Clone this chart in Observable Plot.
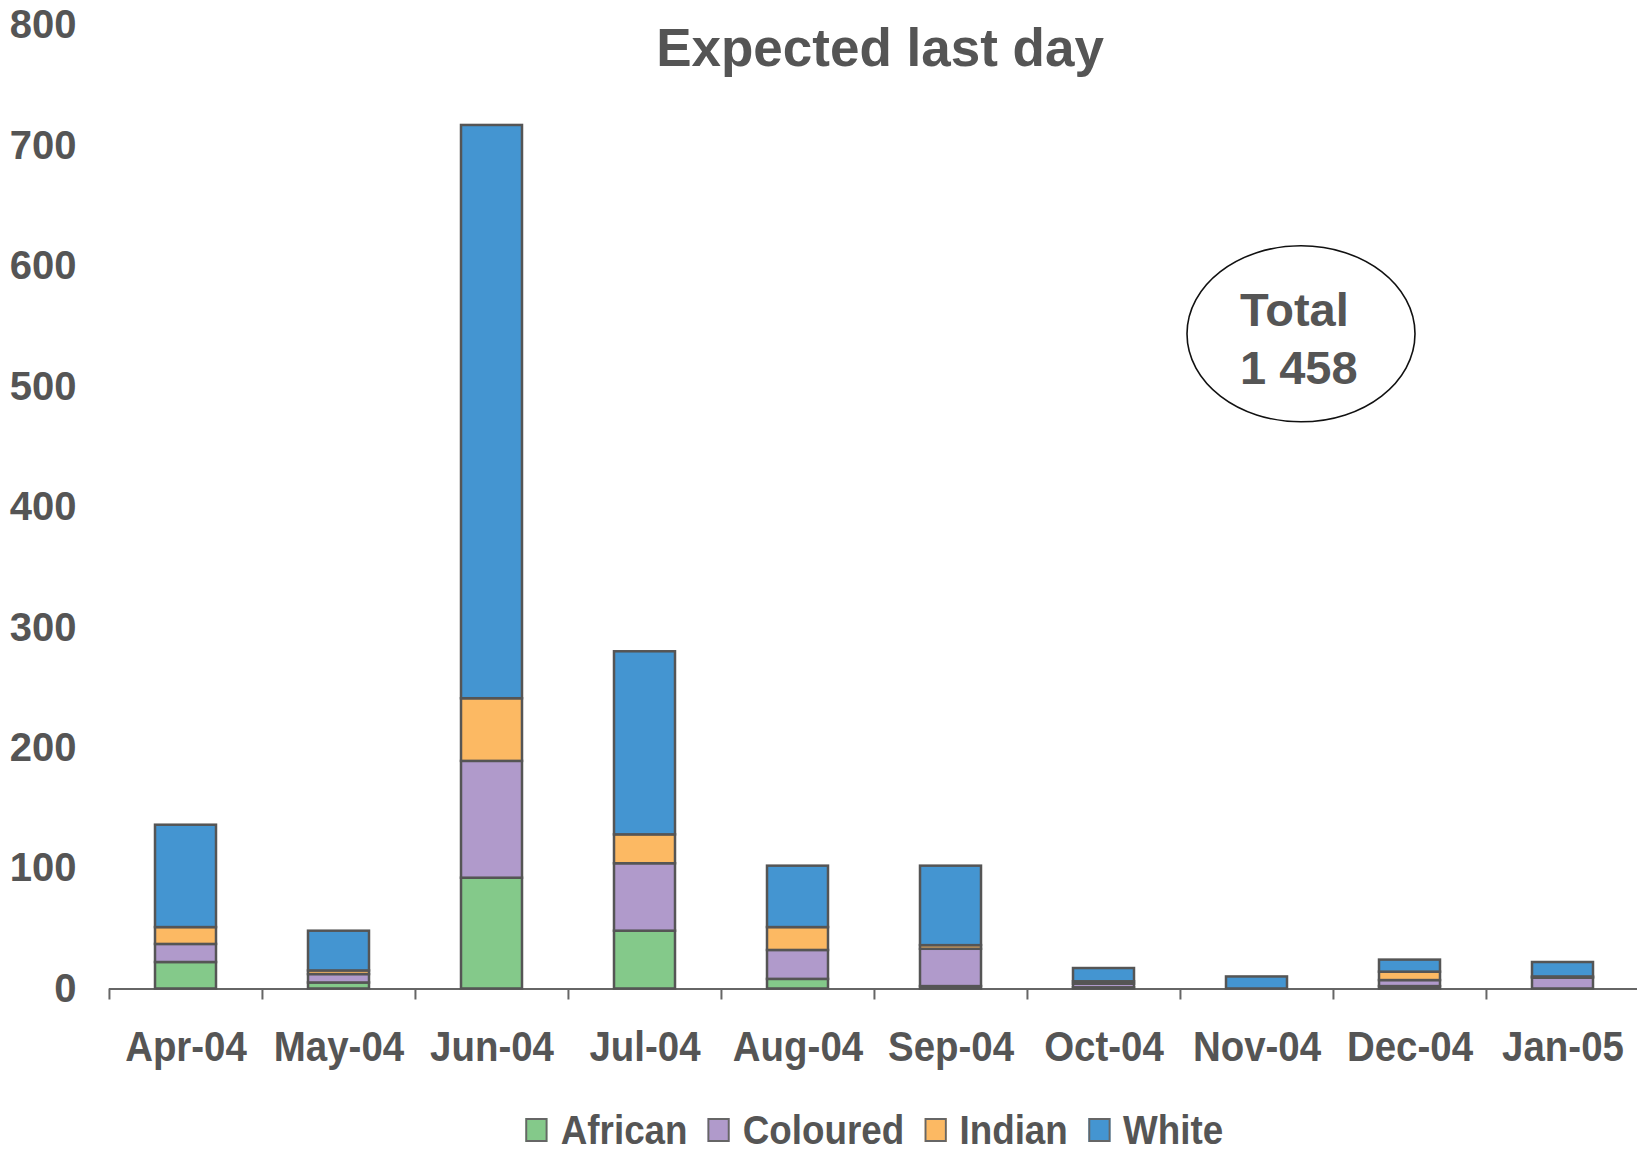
<!DOCTYPE html>
<html>
<head>
<meta charset="utf-8">
<script src="https://cdn.jsdelivr.net/npm/d3@7"></script>
<script src="https://cdn.jsdelivr.net/npm/@observablehq/plot@0.6"></script>
<style>
  html, body { margin: 0; padding: 0; background: #fff; }
  body { width: 1637px; height: 1152px; position: relative; overflow: hidden;
         font-family: "Liberation Sans", Arial, sans-serif; }
  #legend { position: absolute; left: 109px; width: 1531px; top: 1108px; height: 44px;
            display: flex; justify-content: center; align-items: center; gap: 22px;
            transform: scaleX(0.92); transform-origin: center; }
  .item { display: flex; align-items: center; gap: 14px; font-size: 40px; line-height: 1;
          font-weight: bold; color: #555; }
  .sw { width: 20px; height: 20px; border: 2px solid #666; }
</style>
</head>
<body>
<div id="chart"></div>
<div id="legend"></div>
<script>
// Monthly counts by population group
const months = ["Apr-04", "May-04", "Jun-04", "Jul-04", "Aug-04", "Sep-04", "Oct-04", "Nov-04", "Dec-04", "Jan-05"];
const african  = [22,  5,  92, 48,  8,  2,  1,  0,  2,  0];
const coloured = [15,  7,  97, 56, 24, 31,  3,  0,  5,  9];
const indian   = [14,  3,  52, 24, 19,  3,  2,  0,  7,  1];
const white    = [85, 33, 476, 152, 51, 66, 11, 10, 10, 12];
const groups = ["African", "Coloured", "Indian", "White"];
const colors = ["#84C98A", "#B09ACB", "#FCB963", "#4495D1"];
const yTicks = [0, 100, 200, 300, 400, 500, 600, 700, 800];
const title = "Expected last day";

const series = [african, coloured, indian, white];
const rows = [];
months.forEach((m, i) => groups.forEach((g, k) => rows.push({month: m, group: g, value: series[k][i]})));

const total = d3.sum(rows, d => d.value);
const fmt = d3.formatLocale({decimal: ".", thousands: " ", grouping: [3], currency: ["", ""]}).format(",d");

const W = 1637, H = 1100, mL = 109, mR = -3, mT = 25, mB = 111.5;
const step = (W - mL - mR) / months.length;
const frameH = H - mT - mB;
const font = "Liberation Sans, Arial, sans-serif";
const ink = "#555";

// Ellipse outline symbol for the total annotation
const ellipse = {
  draw(ctx) {
    const rx = 114, ry = 88, k = 0.5523;
    ctx.moveTo(rx, 0);
    ctx.bezierCurveTo(rx, ry * k, rx * k, ry, 0, ry);
    ctx.bezierCurveTo(-rx * k, ry, -rx, ry * k, -rx, 0);
    ctx.bezierCurveTo(-rx, -ry * k, -rx * k, -ry, 0, -ry);
    ctx.bezierCurveTo(rx * k, -ry, rx, -ry * k, rx, 0);
    ctx.closePath();
  }
};

const plot = Plot.plot({
  width: W, height: H,
  marginLeft: mL, marginRight: mR, marginTop: mT, marginBottom: mB,
  style: {fontFamily: font, background: "#fff", overflow: "visible"},
  x: {domain: months, paddingInner: 0.6, paddingOuter: 0.3, label: null},
  y: {domain: [0, 800], label: null},
  color: {domain: groups, range: colors},
  marks: [
    Plot.ruleY([0], {stroke: "#666", strokeWidth: 2}),
    Plot.ruleX(months, {x: d => d, dx: -step / 2, insetTop: frameH, insetBottom: -11, stroke: "#666", strokeWidth: 2}),
    Plot.barY(rows, {x: "month", y: "value", fill: "group", order: groups, stroke: ink, strokeWidth: 2.5}),
    Plot.axisY({ticks: yTicks, tickSize: 0, tickPadding: 33, fontSize: 40, fontWeight: "bold", fill: ink, label: null}),
    Plot.axisX({tickSize: 0, tickPadding: 42, fontSize: 42, fontWeight: "bold", fill: ink, label: null}),
    Plot.text([title], {frameAnchor: "top", dy: 24, dx: 5, text: d => d, fontSize: 53, fontWeight: "bold", fill: ink, lineAnchor: "middle"}),
    Plot.dot([total], {x: () => "Nov-04", y: () => 544, dx: 44, symbol: ellipse, stroke: "#111", strokeWidth: 1.6, fill: "none"}),
    Plot.text([total], {x: () => "Nov-04", y: () => 541.5, dx: -17, text: d => "Total\n" + fmt(d), textAnchor: "start", lineAnchor: "middle", lineHeight: 1.23, fontSize: 47, fontWeight: "bold", fill: ink})
  ]
});

document.getElementById("chart").appendChild(plot);

// Slightly condensed month labels
plot.querySelectorAll('g[aria-label="x-axis tick label"] text').forEach(t => {
  const w = t.getComputedTextLength();
  t.setAttribute("textLength", (w * 0.915).toFixed(1));
  t.setAttribute("lengthAdjust", "spacingAndGlyphs");
});

// Legend
const legend = d3.select("#legend");
groups.forEach((g, i) => {
  const item = legend.append("div").attr("class", "item");
  item.append("div").attr("class", "sw").style("background", colors[i]);
  item.append("span").text(g);
});
</script>
</body>
</html>
